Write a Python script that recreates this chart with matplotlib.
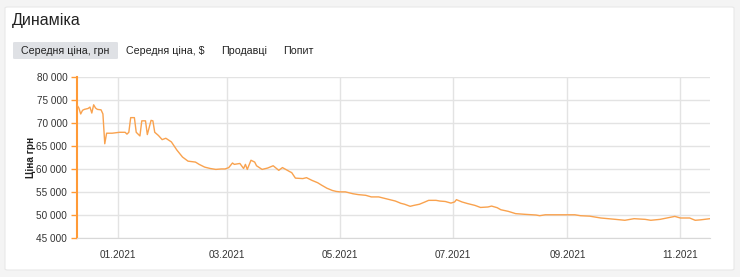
import matplotlib

matplotlib.use("Agg")

import matplotlib.dates as mdates
import matplotlib.pyplot as plt
import numpy as np
from matplotlib.patches import FancyBboxPatch
from matplotlib.ticker import FuncFormatter

plt.rcParams["font.family"] = ["Liberation Sans", "DejaVu Sans"]

# ── data (average price, UAH) ───────────────────────────────────────────────
dates = [
    "2020-12-10", "2020-12-11", "2020-12-12", "2020-12-13", "2020-12-14",
    "2020-12-16", "2020-12-17", "2020-12-18", "2020-12-19", "2020-12-20",
    "2020-12-21", "2020-12-23", "2020-12-24", "2020-12-25", "2020-12-26",
    "2020-12-29", "2021-01-02", "2021-01-05", "2021-01-06", "2021-01-07",
    "2021-01-08", "2021-01-10", "2021-01-11", "2021-01-13", "2021-01-14",
    "2021-01-16", "2021-01-17", "2021-01-19", "2021-01-20", "2021-01-21",
    "2021-01-23", "2021-01-25", "2021-01-27", "2021-01-30", "2021-02-02",
    "2021-02-05", "2021-02-08", "2021-02-12", "2021-02-14", "2021-02-17",
    "2021-02-20", "2021-02-23", "2021-02-26", "2021-02-28", "2021-03-02",
    "2021-03-04", "2021-03-05", "2021-03-08", "2021-03-10", "2021-03-11",
    "2021-03-12", "2021-03-14", "2021-03-16", "2021-03-17", "2021-03-20",
    "2021-03-23", "2021-03-26", "2021-03-29", "2021-03-31", "2021-04-04",
    "2021-04-05", "2021-04-07", "2021-04-11", "2021-04-13", "2021-04-16",
    "2021-04-19", "2021-04-21", "2021-04-24", "2021-04-27", "2021-04-29",
    "2021-05-01", "2021-05-04", "2021-05-08", "2021-05-11", "2021-05-15",
    "2021-05-18", "2021-05-22", "2021-05-26", "2021-05-31", "2021-06-03",
    "2021-06-05", "2021-06-08", "2021-06-10", "2021-06-13", "2021-06-16",
    "2021-06-18", "2021-06-22", "2021-06-24", "2021-06-27", "2021-06-30",
    "2021-07-02", "2021-07-03", "2021-07-06", "2021-07-09", "2021-07-13",
    "2021-07-16", "2021-07-20", "2021-07-22", "2021-07-25", "2021-07-27",
    "2021-07-31", "2021-08-04", "2021-08-09", "2021-08-15", "2021-08-17",
    "2021-08-20", "2021-08-25", "2021-08-31", "2021-09-05", "2021-09-08",
    "2021-09-13", "2021-09-19", "2021-09-27", "2021-10-02", "2021-10-07",
    "2021-10-13", "2021-10-16", "2021-10-21", "2021-10-29", "2021-11-01",
    "2021-11-06", "2021-11-09", "2021-11-12", "2021-11-17",
]
price_uah = [
    73940, 73300, 72000, 72800, 73000,
    73200, 73500, 72200, 74000, 73300,
    73000, 72900, 72000, 65500, 67800,
    67800, 68000, 68000, 67600, 68000,
    71200, 71200, 68000, 67200, 70500,
    70500, 67500, 70600, 70500, 68000,
    67300, 66400, 66700, 65900, 64100,
    62600, 61700, 61500, 61000, 60400,
    60100, 59900, 60000, 60000, 60300,
    61300, 61000, 61200, 60100, 61000,
    59900, 61900, 61500, 60700, 59900,
    60200, 60700, 59700, 60300, 59400,
    59200, 58000, 57900, 58100, 57500,
    57000, 56500, 55800, 55300, 55100,
    55000, 55000, 54600, 54400, 54250,
    53900, 53900, 53500, 53000, 52500,
    52300, 51850, 52050, 52300, 52800,
    53150, 53150, 53000, 52900, 52550,
    52800, 53300, 52800, 52450, 52050,
    51600, 51700, 51900, 51550, 51100,
    50750, 50250, 50100, 49950, 49800,
    50000, 50000, 50000, 50000, 49800,
    49700, 49300, 49000, 48800, 49150,
    49000, 48800, 49000, 49650, 49300,
    49300, 48800, 48900, 49150,
]
y_ticks = [45000, 50000, 55000, 60000, 65000, 70000, 75000, 80000]
tabs = ["Середня ціна, грн", "Середня ціна, $", "Продавці", "Попит"]
tab_x = [21, 126, 221, 283]

ORANGE = "#f9a24e"
AXIS_ORANGE = "#ff9a36"
GRID = "#e3e3e3"
W, H = 740, 277

x = np.array(dates, dtype="datetime64[D]")

fig = plt.figure(figsize=(W / 100, H / 100), dpi=100)
fig.patch.set_facecolor("#f4f4f4")

# white card
card = FancyBboxPatch((5 / W, 7 / H), 729 / W, 263 / H,
                      boxstyle="round,pad=0,rounding_size=0.004",
                      transform=fig.transFigure, facecolor="white",
                      edgecolor="#e8e8e8", lw=0.8, zorder=-2)
fig.patches.append(card)

fig.text(12 / W, 1 - 21 / H, "Динаміка", fontsize=11.5, color="#222222",
         ha="left", va="center")

# tab bar, first one selected
sel = FancyBboxPatch((13 / W, 1 - 59 / H), 105 / W, 17 / H,
                     boxstyle="round,pad=0,rounding_size=0.003",
                     transform=fig.transFigure, facecolor="#dfe1e5",
                     edgecolor="none", zorder=-1)
fig.patches.append(sel)
for label, tx in zip(tabs, tab_x):
    fig.text(tx / W, 1 - 50.5 / H, label, fontsize=7.7, color="#222222",
             ha="left", va="center")

ax = fig.add_axes([77 / W, 1 - 237.7 / H, 633 / W, 160.4 / H])
ax.set_zorder(2)
ax.set_facecolor("none")
ax.plot(x, price_uah, color=ORANGE, lw=1.0, zorder=3)

ax.set_xlim(np.datetime64("2020-12-10"), np.datetime64("2021-11-17"))
ax.set_ylim(45000, 80000)
ax.set_yticks(y_ticks)
ax.yaxis.set_major_formatter(FuncFormatter(lambda v, p: f"{int(v):,}".replace(",", " ")))
ax.xaxis.set_major_locator(mdates.MonthLocator(bymonth=[1, 3, 5, 7, 9, 11]))
ax.xaxis.set_major_formatter(mdates.DateFormatter("%m.%Y"))

ax.grid(True, color=GRID, lw=1.0, zorder=0)
for s in ("top", "right"):
    ax.spines[s].set_visible(False)
ax.spines["bottom"].set_color("#d8d8d8")
ax.spines["left"].set_color(AXIS_ORANGE)
ax.spines["left"].set_linewidth(1.5)
ax.tick_params(axis="y", colors=AXIS_ORANGE, length=4, width=1, pad=3,
               labelsize=7.2, labelcolor="#333333")
ax.tick_params(axis="x", length=0, pad=9, labelsize=7.2, labelcolor="#333333")

ax.set_ylabel("Ціна грн", fontsize=7.2, fontweight="bold", color="#222222",
              labelpad=0)

fig.savefig("out.png", dpi=100, facecolor=fig.get_facecolor())
